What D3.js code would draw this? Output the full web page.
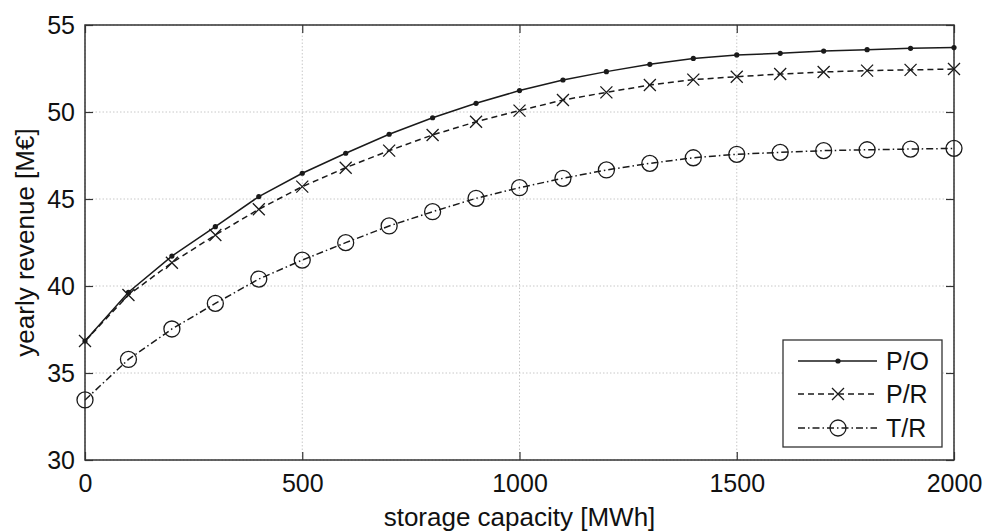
<!DOCTYPE html>
<html>
<head>
<meta charset="utf-8">
<script src="https://cdn.jsdelivr.net/npm/d3@7/dist/d3.min.js"></script>
<style>
  html, body { margin: 0; padding: 0; background: #fff; }
  svg { display: block; }
  text { font-family: "Liberation Sans", Arial, sans-serif; fill: #111; }
</style>
</head>
<body>
<svg id="chart" width="986" height="532"></svg>
<script>
// ---- data ----
const capacity = [0, 100, 200, 300, 400, 500, 600, 700, 800, 900, 1000,
                  1100, 1200, 1300, 1400, 1500, 1600, 1700, 1800, 1900, 2000];
const seriesPO = [36.84, 39.64, 41.72, 43.41, 45.14, 46.48, 47.63, 48.72, 49.67, 50.50, 51.23,
                  51.84, 52.32, 52.74, 53.08, 53.28, 53.37, 53.50, 53.58, 53.66, 53.70];
const seriesPR = [36.84, 39.48, 41.34, 42.93, 44.41, 45.71, 46.80, 47.78, 48.68, 49.44, 50.08,
                  50.69, 51.13, 51.55, 51.86, 52.03, 52.18, 52.30, 52.38, 52.42, 52.47];
const seriesTR = [33.45, 35.78, 37.53, 39.00, 40.40, 41.49, 42.49, 43.45, 44.27, 45.04, 45.65,
                  46.19, 46.67, 47.05, 47.37, 47.57, 47.68, 47.78, 47.83, 47.87, 47.91];
const seriesNames = ["P/O", "P/R", "T/R"];
const xTicks = [0, 500, 1000, 1500, 2000];
const yTicks = [30, 35, 40, 45, 50, 55];
const xLabel = "storage capacity [MWh]";
const yLabel = "yearly revenue [M€]";

// ---- layout ----
const svg = d3.select("#chart");
const L = 85, R = 954, T = 25, B = 460;
const x = d3.scaleLinear().domain([0, 2000]).range([L, R]);
const y = d3.scaleLinear().domain([30, 55]).range([B, T]);
const ink = "#1a1a1a";

// grid
const grid = svg.append("g");
grid.selectAll(".gx").data(xTicks).join("line")
  .attr("x1", d => x(d)).attr("x2", d => x(d)).attr("y1", T).attr("y2", B)
  .attr("stroke", "#c8c8c8").attr("stroke-width", 1).attr("stroke-dasharray", "1.5,2");
grid.selectAll(".gy").data(yTicks).join("line")
  .attr("x1", L).attr("x2", R).attr("y1", d => y(d)).attr("y2", d => y(d))
  .attr("stroke", "#c8c8c8").attr("stroke-width", 1).attr("stroke-dasharray", "1.5,2");

// axes (inward ticks, mirrored)
const fs = 25;
const fmt = d3.format("d");
const axB = d3.axisBottom(x).tickValues(xTicks).tickFormat(fmt).tickSizeInner(-8).tickSizeOuter(0).tickPadding(14);
const axT = d3.axisTop(x).tickValues(xTicks).tickSizeInner(-8).tickSizeOuter(0).tickFormat("");
const axL = d3.axisLeft(y).tickValues(yTicks).tickFormat(fmt).tickSizeInner(-8).tickSizeOuter(0).tickPadding(10);
const axR = d3.axisRight(y).tickValues(yTicks).tickSizeInner(-8).tickSizeOuter(0).tickFormat("");

function style(g) {
  g.select(".domain").remove();
  g.selectAll(".tick line").attr("stroke", "#333").attr("stroke-width", 1.2);
  g.selectAll(".tick text").attr("font-size", fs).attr("font-family", "Liberation Sans, Arial, sans-serif").attr("fill", "#111");
}
svg.append("g").attr("transform", `translate(0,${B})`).call(axB).call(style);
svg.append("g").attr("transform", `translate(0,${T})`).call(axT).call(style);
svg.append("g").attr("transform", `translate(${L},0)`).call(axL).call(style);
svg.append("g").attr("transform", `translate(${R},0)`).call(axR).call(style);

// frame
svg.append("rect").attr("x", L).attr("y", T).attr("width", R - L).attr("height", B - T)
  .attr("fill", "none").attr("stroke", "#333").attr("stroke-width", 1.5);

// series
const dashes = ["none", "6,4", "7,3,1.5,3"];
const allSeries = [seriesPO, seriesPR, seriesTR];
const line = d3.line().x((d, i) => x(capacity[i])).y(d => y(d));

function drawMarker(g, kind, cx, cy) {
  if (kind === 0) {
    g.append("circle").attr("cx", cx).attr("cy", cy).attr("r", 2.6).attr("fill", ink);
  } else if (kind === 1) {
    const s = 6;
    g.append("path").attr("d", `M${cx - s},${cy - s}L${cx + s},${cy + s}M${cx - s},${cy + s}L${cx + s},${cy - s}`)
      .attr("stroke", ink).attr("stroke-width", 1.3).attr("fill", "none");
  } else {
    g.append("circle").attr("cx", cx).attr("cy", cy).attr("r", 8)
      .attr("fill", "none").attr("stroke", ink).attr("stroke-width", 1.3);
  }
}

allSeries.forEach((vals, k) => {
  const g = svg.append("g");
  g.append("path").datum(vals).attr("d", line)
    .attr("fill", "none").attr("stroke", ink).attr("stroke-width", 1.5)
    .attr("stroke-dasharray", dashes[k]);
  vals.forEach((v, i) => drawMarker(g, k, x(capacity[i]), y(v)));
});

// axis labels
svg.append("text").attr("x", (L + R) / 2).attr("y", 526).attr("text-anchor", "middle")
  .attr("font-size", 26).text(xLabel);
svg.append("text").attr("transform", `translate(34,${(T + B) / 2}) rotate(-90)`)
  .attr("text-anchor", "middle").attr("font-size", 26).text(yLabel);

// legend
const lg = svg.append("g");
lg.append("rect").attr("x", 783).attr("y", 340).attr("width", 159).attr("height", 107)
  .attr("fill", "#fff").attr("stroke", "#333").attr("stroke-width", 1.3);
const rowY = [361, 394, 428];
seriesNames.forEach((name, k) => {
  lg.append("line").attr("x1", 798).attr("x2", 877).attr("y1", rowY[k]).attr("y2", rowY[k])
    .attr("stroke", ink).attr("stroke-width", 1.3).attr("stroke-dasharray", dashes[k]);
  drawMarker(lg, k, 838, rowY[k]);
  lg.append("text").attr("x", 886).attr("y", rowY[k] + 9).attr("font-size", fs).text(name);
});
</script>
</body>
</html>
